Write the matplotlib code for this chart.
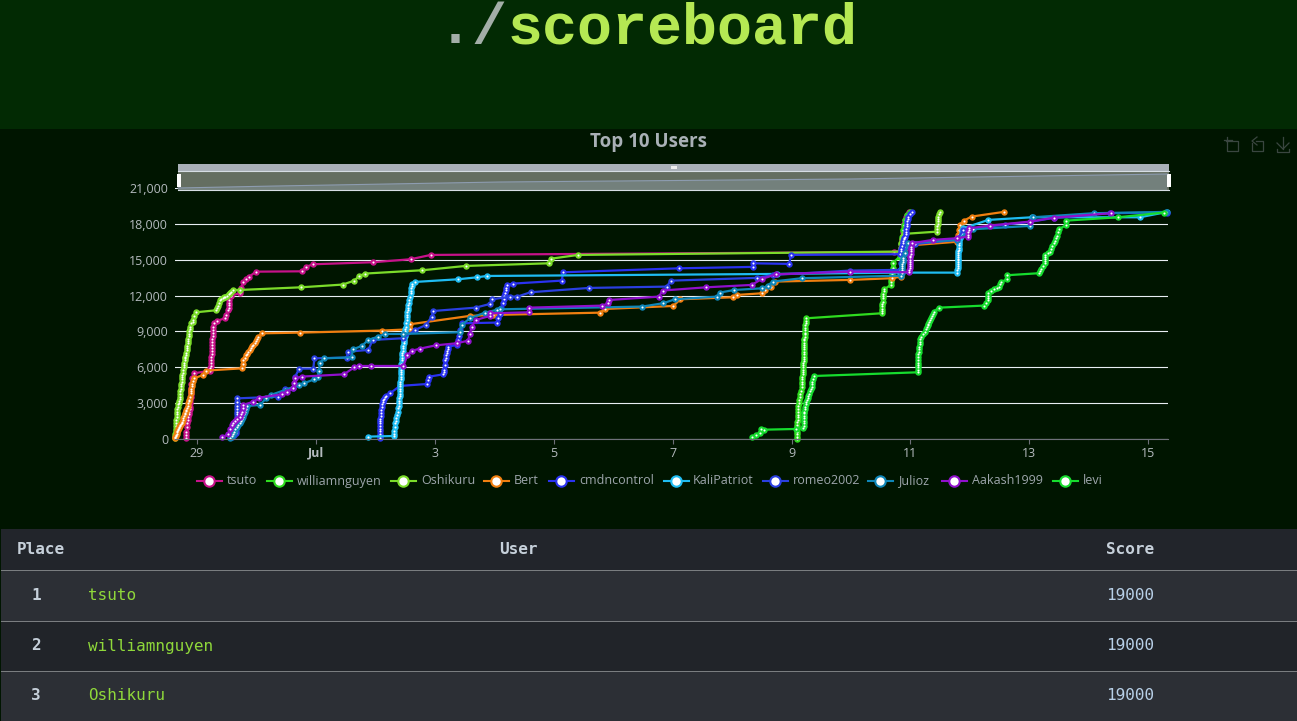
import matplotlib
matplotlib.use('Agg')
import matplotlib.pyplot as plt
from matplotlib.patches import Rectangle, Polygon
from matplotlib.ticker import FuncFormatter

# (day relative to 1 Jul = 1, score)
tsuto = [(-1.186, 50), (-1.184, 300), (-1.18, 600), (-1.175, 1000), (-1.17, 1300), (-1.16, 1600), (-1.147, 1870), (-1.14, 2100),
         (-1.135, 2300), (-1.125, 2500), (-1.118, 2700), (-1.115, 3000), (-1.112, 3250), (-1.108, 3500), (-1.105, 3750), (-1.1, 4000),
         (-1.098, 4300), (-1.095, 4600), (-1.09, 5080), (-1.046, 5500), (-0.782, 5720), (-0.775, 5900), (-0.77, 6100),
         (-0.764, 6330), (-0.762, 6600), (-0.76, 6850), (-0.757, 7100), (-0.755, 7350), (-0.752, 7600), (-0.75, 7850), (-0.747, 8100),
         (-0.745, 8350), (-0.74, 8600), (-0.737, 8850), (-0.733, 9100), (-0.725, 9350), (-0.72, 9680), (-0.659, 9900), (-0.53, 10100),
         (-0.52, 10400), (-0.474, 10800), (-0.47, 11000), (-0.465, 11200), (-0.46, 11400), (-0.457, 11630), (-0.435, 12000),
         (-0.278, 12190), (-0.27, 12400), (-0.26, 12600), (-0.222, 13170), (-0.17, 13400),
         (-0.121, 13590), (-0.008, 14000), (0.76, 14030), (0.827, 14400), (0.956, 14620), (1.965, 14790), (2.593, 15040),
         (2.93, 15400), (10.72, 15650), (10.82, 15700), (10.835, 16000), (10.85, 16300), (10.86, 16650), (10.87, 17000), (10.88, 17350),
         (10.89, 17700), (10.9, 18000), (10.91, 18300), (10.93, 18550), (10.95, 18750), (10.98, 19000)]
williamnguyen = [(9.09, 0), (9.09, 200), (9.09, 400), (9.093, 600), (9.095, 800), (9.097, 1000), (9.098, 1200), (9.10, 1400),
                 (9.102, 1600), (9.105, 1800), (9.107, 2000), (9.11, 2250), (9.113, 2500), (9.117, 2750), (9.12, 2990),
                 (9.13, 3250), (9.14, 3500), (9.15, 3750), (9.16, 4050), (9.17, 4380), (9.172, 4600), (9.175, 4800), (9.178, 5000),
                 (9.18, 5200), (9.185, 5400), (9.19, 5600), (9.192, 5800), (9.195, 6000), (9.197, 6150), (9.2, 6330), (9.202, 6500),
                 (9.203, 6700), (9.205, 6900), (9.206, 7100), (9.208, 7300), (9.21, 7500), (9.212, 7700), (9.213, 7900), (9.215, 8050),
                 (9.217, 8250), (9.218, 8400), (9.22, 8570), (9.222, 8750), (9.225, 8900), (9.227, 9100), (9.23, 9300), (9.235, 9500),
                 (9.24, 9700), (9.245, 9900), (9.25, 10100), (10.52, 10520), (10.522, 10700), (10.525, 10900), (10.527, 11100),
                 (10.53, 11300), (10.532, 11500), (10.535, 11770), (10.54, 11950), (10.545, 12150), (10.55, 12350), (10.56, 12530),
                 (10.67, 12890), (10.675, 13100), (10.68, 13300), (10.685, 13550), (10.69, 13800), (10.695, 14050), (10.7, 14300),
                 (10.7, 14700), (10.82, 15260), (10.835, 15800), (10.85, 16300), (10.865, 16900), (10.88, 17490),
                 (10.895, 17900), (10.91, 18330), (10.95, 18700), (10.99, 19000)]
Oshikuru = [(-1.372, 50), (-1.368, 250), (-1.365, 450), (-1.36, 650), (-1.358, 850), (-1.354, 1050), (-1.35, 1300), (-1.346, 1600),
            (-1.343, 1870), (-1.338, 2100), (-1.335, 2300), (-1.33, 2500), (-1.325, 2700), (-1.315, 2900), (-1.31, 3050), (-1.3, 3200),
            (-1.295, 3350), (-1.287, 3540), (-1.283, 3800), (-1.28, 4000), (-1.275, 4200), (-1.27, 4400), (-1.265, 4600), (-1.26, 4800),
            (-1.255, 5000), (-1.25, 5200), (-1.245, 5350), (-1.24, 5500), (-1.23, 5780), (-1.226, 6000), (-1.222, 6200), (-1.215, 6400),
            (-1.21, 6600), (-1.2, 6750), (-1.195, 6900), (-1.19, 7050), (-1.185, 7200), (-1.174, 7450), (-1.17, 7650), (-1.165, 7800),
            (-1.16, 8000), (-1.155, 8200), (-1.147, 8400), (-1.14, 8600), (-1.135, 8800), (-1.13, 9000), (-1.125, 9200), (-1.118, 9400),
            (-1.11, 9700), (-1.07, 9800), (-1.062, 9960), (-1.055, 10250), (-1.022, 10600), (-0.68, 10770), (-0.665, 10950), (-0.65, 11100),
            (-0.63, 11350), (-0.614, 11630), (-0.59, 11720), (-0.57, 11800), (-0.55, 11860), (-0.53, 11910), (-0.5, 12000), (-0.47, 12100),
            (-0.45, 12200), (-0.43, 12300), (-0.4, 12470), (-0.278, 12470), (0.743, 12690), (1.45, 12920),
            (1.646, 13250), (1.725, 13640), (1.825, 13840), (2.79, 14120), (3.52, 14480), (4.92, 14700), (4.96, 15090),
            (5.41, 15400), (10.82, 15680), (10.835, 16000), (10.85, 16380), (10.865, 16700), (10.88, 17000), (10.89, 17160), (11.45, 17350),
            (11.452, 17600), (11.455, 17800), (11.457, 18000), (11.46, 18200), (11.462, 18400), (11.465, 18610), (11.475, 18800), (11.49, 19000)]
Bert = [(-1.372, 50), (-1.366, 150), (-1.36, 250), (-1.352, 350), (-1.345, 450), (-1.338, 550), (-1.33, 650), (-1.322, 725), (-1.315, 800),
        (-1.308, 900), (-1.3, 1000), (-1.29, 1075), (-1.28, 1150), (-1.27, 1230), (-1.26, 1310), (-1.25, 1450), (-1.24, 1600), (-1.23, 1750),
        (-1.22, 1900), (-1.21, 2050), (-1.2, 2200), (-1.19, 2320), (-1.18, 2450), (-1.17, 2600), (-1.16, 2750), (-1.147, 2990), (-1.138, 3150),
        (-1.13, 3300), (-1.12, 3550), (-1.107, 3820), (-1.1, 4000), (-1.095, 4200), (-1.088, 4400), (-1.08, 4600), (-1.065, 4850),
        (-1.05, 5080), (-0.895, 5360), (-0.855, 5720), (-0.25, 5910), (-0.235, 6300),
        (-0.222, 6610), (-0.2, 6800), (-0.18, 7000), (-0.16, 7150), (-0.138, 7310), (-0.115, 7450), (-0.095, 7600), (-0.075, 7750), (-0.053, 7870),
        (-0.03, 8050), (-0.01, 8200), (0.01, 8400), (0.03, 8570), (0.087, 8840), (0.732, 8900), (2.105, 9070), (2.582, 9180), (2.582, 9600),
        (3.59, 10300), (3.984, 10380), (5.777, 10570), (5.862, 10880), (7.012, 11130), (7.128, 11690), (8.02, 11860), (8.077, 12050),
        (8.497, 12190), (8.553, 12470), (8.649, 12750), (8.72, 13170), (9.985, 13310), (10.685, 13450), (10.85, 13590), (10.9, 15500),
        (11.0, 16200), (11.78, 16500), (11.79, 16800), (11.8, 17100), (11.815, 17500), (11.83, 17910), (11.9, 18270), (12.03, 18610), (12.57, 19000)]
cmdncontrol = [(2.077, 50), (2.077, 250), (2.077, 450), (2.077, 650), (2.077, 850), (2.077, 1050), (2.077, 1310), (2.08, 1500), (2.085, 1700),
               (2.088, 1950), (2.092, 2200), (2.097, 2450), (2.105, 2700), (2.112, 2900), (2.12, 3100), (2.13, 3230), (2.145, 3350), (2.16, 3480),
               (2.178, 3600), (2.245, 3820), (2.414, 4440), (2.863, 4600), (2.885, 4900), (2.907, 5220),
               (3.143, 5410), (3.15, 5600), (3.155, 5800), (3.163, 6200), (3.171, 6610), (3.18, 6800), (3.19, 7000), (3.2, 7200), (3.205, 7350),
               (3.215, 7550), (3.227, 7730), (3.367, 7870), (3.39, 8250), (3.41, 8600), (3.43, 9100), (3.451, 9680), (4.04, 9740), (4.065, 10100),
               (4.09, 10500), (4.12, 10950), (4.152, 11360), (4.16, 11700), (4.17, 12000), (4.18, 12200), (4.19, 12450), (4.2, 12650),
               (4.208, 12890), (4.309, 13000), (5.133, 13250), (5.161, 13950), (7.108, 14280), (8.358, 14400), (8.358, 14700),
               (8.964, 14650), (8.986, 15400), (10.82, 15460), (10.835, 15700), (10.85, 15900), (10.86, 16150), (10.87, 16400), (10.88, 16550),
               (10.89, 16700), (10.9, 16820), (10.91, 16940), (10.918, 17150), (10.925, 17350), (10.932, 17600), (10.94, 17800), (10.945, 18000),
               (10.95, 18200), (10.955, 18400), (10.96, 18610), (10.99, 18800), (11.02, 19000)]
KaliPatriot = [(1.881, 200), (2.305, 250), (2.312, 450), (2.32, 700), (2.327, 1000), (2.333, 1310), (2.34, 1500), (2.35, 1750), (2.36, 2000),
               (2.375, 2300), (2.385, 2600), (2.395, 2800), (2.40, 2990), (2.402, 3200), (2.405, 3400), (2.407, 3600), (2.41, 3800), (2.412, 4000),
               (2.415, 4200), (2.417, 4400), (2.42, 4600), (2.422, 4800), (2.425, 5000), (2.427, 5200), (2.43, 5400), (2.432, 5600), (2.435, 5800),
               (2.437, 6000), (2.438, 6300), (2.44, 6610), (2.445, 6800), (2.45, 7000), (2.455, 7200), (2.46, 7400), (2.465, 7600), (2.47, 7800),
               (2.475, 8000), (2.48, 8200), (2.485, 8400), (2.49, 8600), (2.495, 8800), (2.5, 9000), (2.505, 9200), (2.51, 9400), (2.52, 9700),
               (2.526, 9960), (2.53, 10200), (2.535, 10400), (2.54, 10600), (2.545, 10800), (2.55, 11000), (2.555, 11200), (2.562, 11400), (2.57, 11600),
               (2.58, 11900), (2.593, 12190), (2.597, 12400), (2.6, 12600), (2.61, 12800), (2.62, 12950), (2.666, 13140), (3.384, 13360), (3.714, 13530),
               (3.871, 13640), (8.75, 13810), (10.82, 13920), (11.79, 13920), (11.79, 14100), (11.795, 14300), (11.795, 14500), (11.795, 14650), (11.8, 14800),
               (11.8, 14950), (11.8, 15100), (11.805, 15250), (11.805, 15400), (11.805, 15550), (11.805, 15700), (11.81, 15850), (11.81, 16000), (11.81, 16200),
               (11.81, 16380), (11.82, 16600), (11.83, 16800), (11.845, 17000), (11.86, 17250), (11.875, 17450), (11.89, 17630), (12.31, 18330), (13.04, 18550),
               (14.86, 18550), (15.32, 19000)]
romeo2002 = [(-0.418, 200), (-0.38, 300), (-0.345, 470), (-0.342, 700), (-0.34, 900), (-0.339, 1100), (-0.338, 1300), (-0.336, 1600),
             (-0.334, 1870), (-0.332, 2100), (-0.33, 2300), (-0.328, 2550), (-0.327, 2800), (-0.325, 3100),
             (-0.322, 3400), (0.367, 3540), (0.479, 4190), (0.62, 4240), (0.648, 5200), (0.72, 5890),
             (0.956, 5890), (0.973, 6750), (1.517, 6810), (1.545, 7310), (1.881, 7450), (1.954, 8290), (2.47, 8430),
             (2.666, 9120), (2.851, 9540), (2.946, 10240), (2.974, 10710), (3.686, 10990), (3.927, 11300), (3.967, 11690),
             (4.264, 11910), (4.387, 11910), (4.612, 12280), (5.599, 12640), (6.9, 12750), (6.972, 13250), (8.424, 13480),
             (8.693, 13730), (9.985, 14090), (10.82, 14150), (10.85, 14700), (10.88, 15000), (10.9, 15500), (10.93, 16100),
             (11.08, 16320), (11.78, 16660), (11.89, 17490), (12.59, 17940), (13.01, 18160), (13.41, 18500), (14.35, 18890),
             (15.31, 18950)]
Julioz = [(-0.45, 50), (-0.42, 220), (-0.4, 400), (-0.38, 600), (-0.36, 800), (-0.335, 1000), (-0.31, 1200), (-0.285, 1350), (-0.26, 1500), (-0.24, 1700),
          (-0.222, 1870), (-0.205, 2100), (-0.19, 2300), (-0.17, 2550), (-0.154, 2760),
          (0.059, 2850), (0.16, 3400), (0.238, 3680), (0.72, 4520), (0.8, 4660), (0.967, 4990), (1.04, 5220), (1.05, 5700),
          (1.068, 6330), (1.135, 6750), (1.6, 6830), (1.618, 7500), (1.77, 7780), (1.881, 8290), (2.05, 8570), (2.16, 8790),
          (2.47, 8790), (3.42, 8930), (3.45, 9540), (3.59, 10100), (3.84, 10570), (4.04, 10800), (4.096, 10850), (6.49, 11080),
          (6.84, 11360), (7.04, 11690), (7.75, 11910), (7.79, 12250), (8.04, 12470), (8.51, 12610), (8.6, 12830), (8.68, 13170),
          (9.17, 13450), (10.85, 13670), (10.852, 13900), (10.855, 14100), (10.857, 14300), (10.86, 14500), (10.865, 14650), (10.87, 14800),
          (10.875, 14950), (10.88, 15120), (10.91, 15600), (10.96, 16380), (11.78, 16660), (12.06, 17550), (13.01, 17830), (13.06, 18550),
          (14.08, 18890), (15.3, 19000)]
Aakash1999 = [(-0.575, 140), (-0.474, 420), (-0.445, 800), (-0.418, 1170), (-0.39, 1350), (-0.362, 1530), (-0.32, 1700), (-0.278, 1870), (-0.265, 2100),
              (-0.25, 2300), (-0.235, 2600), (-0.222, 2850),
              (-0.053, 3120), (0.048, 3460), (0.423, 3740), (0.507, 3960), (0.62, 4240), (0.63, 4650), (0.648, 5080), (0.76, 5220),
              (1.47, 5410), (1.646, 6000), (1.73, 6110), (1.92, 6110), (2.47, 6110), (2.54, 7030), (2.62, 7390), (2.75, 7560),
              (3.02, 7840), (3.37, 8010), (3.56, 8230), (3.59, 8800), (3.62, 9400), (3.69, 9960), (3.93, 10300), (3.93, 10520),
              (4.59, 10600), (4.59, 10990), (5.82, 11160), (5.92, 11360), (5.93, 11630), (6.77, 11910), (6.83, 12420),
              (7.56, 12690), (8.33, 12890), (8.5, 13390), (8.74, 13780), (9.99, 14000), (10.98, 13950), (10.983, 14150), (10.985, 14300),
              (10.987, 14500), (10.99, 14650), (10.992, 14800), (10.995, 15000), (10.997, 15200), (11.0, 15350), (11.005, 15500), (11.01, 15700),
              (11.012, 15900), (11.015, 16050), (11.02, 16380), (11.38, 16660), (11.79, 16800), (11.97, 16940), (11.972, 17100), (11.975, 17300),
              (11.982, 17450), (11.99, 17630), (12.34, 17860), (13.01, 18190), (13.41, 18520), (14.37, 18890)]
levi = [(8.34, 140), (8.4, 330), (8.47, 530), (8.49, 840), (8.54, 780), (9.07, 840), (9.2, 890), (9.203, 1100), (9.205, 1300), (9.205, 1500), (9.205, 1750),
        (9.207, 1950), (9.21, 2150), (9.217, 2300), (9.225, 2500), (9.232, 2700), (9.24, 2900), (9.25, 3080), (9.26, 3260), (9.27, 3430), (9.28, 3600),
        (9.295, 3800), (9.31, 4000), (9.325, 4200), (9.34, 4380), (9.345, 4600), (9.35, 4800), (9.36, 5050),
        (9.37, 5270), (11.12, 5580), (11.122, 5800), (11.125, 6000), (11.127, 6200), (11.13, 6400), (11.13, 6650), (11.13, 6890), (11.135, 7100), (11.14, 7300),
        (11.145, 7500), (11.15, 7700), (11.155, 7950), (11.16, 8150), (11.165, 8350), (11.17, 8570), (11.21, 8780), (11.25, 8980), (11.265, 9170),
        (11.28, 9350), (11.29, 9500), (11.3, 9650), (11.315, 9800), (11.33, 9960), (11.345, 10130), (11.36, 10300), (11.375, 10480), (11.39, 10660),
        (11.48, 10990), (12.23, 11160), (12.27, 11400), (12.3, 11630), (12.302, 11800), (12.305, 11950), (12.31, 12250), (12.36, 12400), (12.41, 12530),
        (12.45, 12650), (12.49, 12750), (12.505, 12950), (12.52, 13110), (12.62, 13360), (12.62, 13700), (13.16, 13870), (13.18, 14050), (13.2, 14200), (13.23, 14450), (13.26, 14700),
        (13.262, 14900), (13.265, 15050), (13.267, 15250), (13.27, 15400), (13.31, 15550), (13.35, 15680), (13.37, 15900), (13.39, 16150), (13.41, 16400), (13.43, 16600),
        (13.445, 16800), (13.46, 17000), (13.48, 17280), (13.5, 17550), (13.62, 17910), (13.62, 18270), (14.49, 18550), (15.27, 18950)]

series_names = ['tsuto', 'williamnguyen', 'Oshikuru', 'Bert', 'cmdncontrol', 'KaliPatriot', 'romeo2002', 'Julioz',
                'Aakash1999', 'levi']
series_data = [tsuto, williamnguyen, Oshikuru, Bert, cmdncontrol, KaliPatriot, romeo2002, Julioz, Aakash1999, levi]
series_colors = ['#c7128a', '#2fdc1f', '#7bdc2a', '#f07f10', '#2a32f0', '#1fbcf2', '#2a3fe0', '#0f86b8', '#9010cc', '#16dc2e']

x_ticks = [-1, 1, 3, 5, 7, 9, 11, 13, 15]
x_labels = ['29', 'Jul', '3', '5', '7', '9', '11', '13', '15']
y_ticks = [0, 3000, 6000, 9000, 12000, 15000, 18000, 21000]

places = ['1', '2', '3']
users = ['tsuto', 'williamnguyen', 'Oshikuru']
scores = ['19000', '19000', '19000']

# slider preview outline (x pixel, y pixel)
shadow_x = [178, 276, 500, 850, 1167]
shadow_y = [188, 186, 182, 179, 174]

W, H = 1297, 721
fig = plt.figure(figsize=(W / 100, H / 100), dpi=100, facecolor='#001500')

# page furniture is drawn in pixel coordinates
bg = fig.add_axes([0, 0, 1, 1])
bg.set_xlim(0, W)
bg.set_ylim(H, 0)
bg.axis('off')
bg.add_patch(Rectangle((0, 0), W, 129, color='#022a03', lw=0))

mono = ['Liberation Mono', 'DejaVu Sans Mono']
bg.text(438, 43, './', family=mono, weight='bold', fontsize=42, color='#a3aea8', va='baseline')
bg.text(508, 43, 'scoreboard', family=mono, weight='bold', fontsize=42, color='#b5e853', va='baseline')
bg.text(649, 142, 'Top 10 Users', family='Open Sans', weight='bold', fontsize=13.5, color='#a9b0b6', ha='center', va='center')

# toolbox icons
icon = dict(color='#3a4640', lw=0.9)
bg.plot([1226, 1238, 1238, 1227, 1227], [141, 141, 151, 151, 137], **icon)
bg.plot([1224, 1232], [140, 140], **icon)
bg.plot([1256, 1263, 1263, 1252, 1252], [141, 141, 151, 151, 143], **icon)
bg.plot([1257, 1252, 1257], [137, 141, 145], **icon)
bg.plot([1283, 1283], [137, 149], **icon)
bg.plot([1277, 1283, 1289], [143, 149, 143], **icon)
bg.plot([1277, 1277, 1289, 1289], [149, 152, 152, 149], **icon)

# table, rows touch so the page colour does not show between them
bg.add_patch(Rectangle((1, 529), W, 41, color='#22252b', lw=0))
for top_y, bottom_y, col in [(570, 621, '#2c2f35'), (621, 671, '#212429'), (671, 721, '#2c2f35')]:
    bg.add_patch(Rectangle((1, top_y), W, bottom_y - top_y, color=col, lw=0))
for y in [569.5, 620.5, 670.5]:
    bg.plot([1, W], [y, y], color='#7a7d80', lw=0.72)
tmono = ['DejaVu Sans Mono']
head_kw = dict(family=tmono, weight='bold', fontsize=11.5, color='#c6d0da', va='center')
bg.text(17, 549, 'Place', **head_kw)
bg.text(499, 549, 'User', **head_kw)
bg.text(1106, 549, 'Score', **head_kw)
for y, p, u, s in zip([595, 646, 696], places, users, scores):
    bg.text(36, y, p, family=tmono, weight='bold', fontsize=11.5, color='#c6d0da', va='center', ha='center')
    bg.text(88, y, u, family=tmono, fontsize=11.5, color='#8fd83a', va='center')
    bg.text(1106, y, s, family=tmono, fontsize=11.5, color='#b8d0e8', va='center')

# main chart
ax = fig.add_axes([175 / W, (H - 439) / H, 993 / W, 251 / H])
ax.patch.set_alpha(0)
for (name, data, col) in zip(series_names, series_data, series_colors):
    xs = [p[0] for p in data]
    ys = [p[1] for p in data]
    # white centres go on top of the whole line so they stay visible in the steep runs
    ax.plot(xs, ys, color=col, lw=1.6, marker='o', ms=4.6, mfc=col, mec=col, mew=0, clip_on=False, label=name)
    ax.plot(xs, ys, ls='none', marker='o', ms=1.5, mfc='white', mec='white', mew=0, clip_on=False)

ax.set_xlim(-1.371, 15.333)
ax.set_ylim(0, 21000)
ax.set_xticks(x_ticks)
ax.set_xticklabels(x_labels)
ax.get_xticklabels()[1].set_fontweight('bold')
ax.set_yticks(y_ticks)
ax.yaxis.set_major_formatter(FuncFormatter(lambda v, _: f'{int(v):,}'))
ax.grid(axis='y', color='#e8eef2', lw=0.8)
ax.set_axisbelow(True)
for side in ['top', 'right', 'left']:
    ax.spines[side].set_visible(False)
ax.spines['bottom'].set_color('#6e7079')
ax.tick_params(axis='x', length=3.6, width=0.8, color='#6e7079', labelcolor='#b4babe', labelsize=9, pad=2)
ax.tick_params(axis='y', length=0, labelcolor='#b4babe', labelsize=9, pad=5)
for lab in ax.get_xticklabels() + ax.get_yticklabels():
    lab.set_family('Open Sans')

# data zoom slider on top of everything
top = fig.add_axes([0, 0, 1, 1])
top.set_xlim(0, W)
top.set_ylim(H, 0)
top.axis('off')
top.patch.set_alpha(0)
top.add_patch(Rectangle((178, 164), 991, 7, color='#a9b0b8', lw=0))
top.add_patch(Rectangle((178, 171), 991, 19, color='#646e61', lw=0))
top.add_patch(Polygon(list(zip(shadow_x, shadow_y)) + [(1167, 190), (178, 190)], closed=True, color='#73807c', lw=0))
top.plot(shadow_x, shadow_y, color='#8d9cb0', lw=0.8)
top.plot([178, 1169], [171, 171], color='#d6dde4', lw=0.8)
top.plot([178, 1169], [190, 190], color='#d6dde4', lw=0.8)
for hx in [177, 1167]:
    top.add_patch(Rectangle((hx, 174), 4, 13, color='white', lw=0))
top.add_patch(Rectangle((671, 166), 6, 3, color='#eeeeee', lw=0))

# legend
legend_x = [209, 279, 403, 496, 561, 676, 775, 880, 954, 1065]
text_x = [227, 297, 421, 514, 579, 693, 793, 898, 972, 1083]
for name, col, lx, tx in zip(series_names, series_colors, legend_x, text_x):
    top.plot([lx - 12.5, lx + 12.5], [481, 481], color=col, lw=1.5)
    top.plot([lx], [481], marker='o', ms=7.5, mfc='white', mec=col, mew=1.5)
    top.text(tx, 481, name, family='Open Sans', fontsize=9, color='#9ea6ac', va='center')

fig.savefig('out.png', dpi=100, facecolor=fig.get_facecolor())
